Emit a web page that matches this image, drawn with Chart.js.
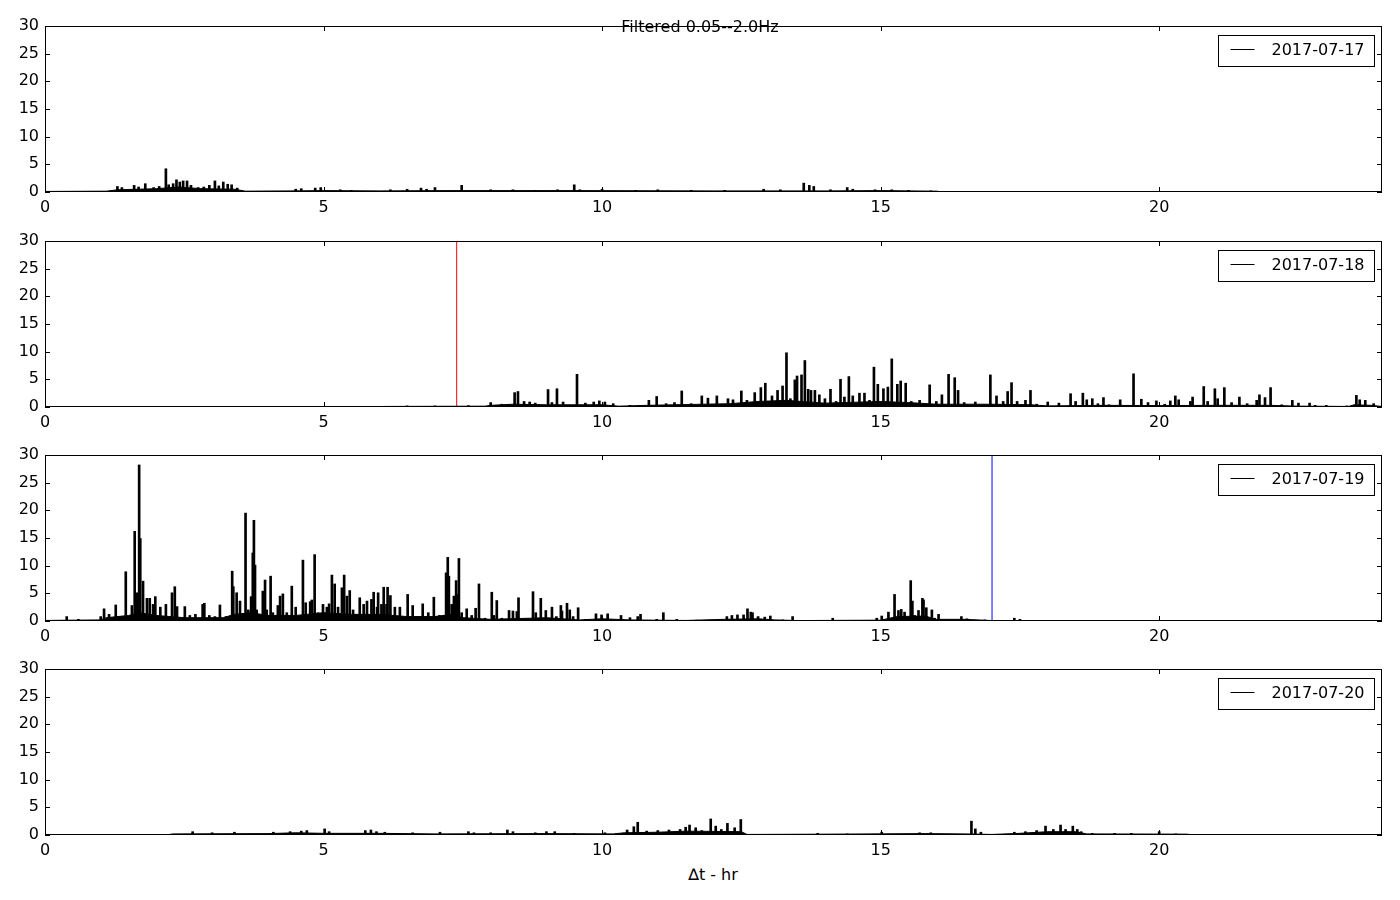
<!DOCTYPE html>
<html>
<head>
<meta charset="utf-8">
<script src="https://cdn.jsdelivr.net/npm/chart.js@4.4.1/dist/chart.umd.min.js"></script>
<style>
  body { margin: 0; background: #fff; width: 1400px; height: 900px; position: relative; overflow: hidden; font-family: "DejaVu Sans", sans-serif; }
  canvas { position: absolute; left: 0; }
  #title { position: absolute; left: 0; width: 1400px; top: 17px; text-align: center; font-size: 16px; line-height: 20px; z-index: 5; }
  #xlabel { position: absolute; left: 26px; width: 1374px; top: 865px; text-align: center; font-size: 16px; line-height: 20px; }
</style>
</head>
<body>
<div id="title">Filtered 0.05--2.0Hz</div>
<canvas id="c0" width="1400" height="200"></canvas>
<canvas id="c1" width="1400" height="200"></canvas>
<canvas id="c2" width="1400" height="200"></canvas>
<canvas id="c3" width="1400" height="200"></canvas>
<div id="xlabel">∆t - hr</div>
<script>
// ---- data (hours, amplitude) ----
const dayLabels = ['2017-07-17', '2017-07-18', '2017-07-19', '2017-07-20']
const xTicks = [0, 5, 10, 15, 20]
const yTicks = [0, 5, 10, 15, 20, 25, 30]

// spikes
const hours17 = [1.3, 1.38, 1.6, 1.68, 1.8, 1.95, 2.05, 2.17, 2.22, 2.3, 2.36, 2.42, 2.48, 2.55, 2.62, 2.75, 2.85, 2.95, 3.05, 3.12, 3.2, 3.28, 3.35, 3.45, 4.5, 4.6, 4.85, 4.95, 5.3, 5.5, 6.2, 6.5, 6.75, 6.85, 7.0, 7.48, 8.0, 8.4, 8.8, 9.2, 9.5, 9.6, 10.0, 10.6, 11.0, 11.6, 12.2, 12.9, 13.2, 13.62, 13.72, 13.8, 14.1, 14.4, 14.5, 14.9, 15.2, 15.5, 15.9]
const peaks17 = [1.0, 0.8, 1.2, 0.9, 1.5, 0.8, 1.0, 4.2, 1.3, 1.5, 2.2, 1.8, 2.0, 2.0, 1.2, 0.8, 0.9, 1.2, 2.0, 1.1, 1.8, 1.4, 1.3, 0.7, 0.5, 0.6, 0.7, 0.8, 0.4, 0.3, 0.4, 0.5, 0.7, 0.5, 0.8, 1.2, 0.4, 0.4, 0.3, 0.4, 1.3, 0.4, 0.5, 0.3, 0.4, 0.3, 0.3, 0.5, 0.4, 1.6, 1.2, 1.0, 0.4, 0.8, 0.5, 0.4, 0.4, 0.3, 0.2]

const hours18 = [6.5, 7.0, 7.6, 8.0, 8.2, 8.43, 8.49, 8.6, 8.7, 8.8, 9.03, 9.1, 9.19, 9.3, 9.55, 9.7, 9.85, 9.95, 10.05, 10.2, 10.5, 10.84, 10.98, 11.15, 11.3, 11.43, 11.6, 11.79, 11.9, 12.06, 12.26, 12.35, 12.5, 12.6, 12.74, 12.85, 12.93, 13.05, 13.15, 13.24, 13.31, 13.38, 13.46, 13.5, 13.58, 13.64, 13.7, 13.75, 13.82, 13.9, 14.0, 14.1, 14.2, 14.28, 14.35, 14.43, 14.5, 14.62, 14.71, 14.8, 14.88, 14.95, 15.05, 15.13, 15.2, 15.3, 15.36, 15.45, 15.55, 15.7, 15.88, 16.0, 16.1, 16.22, 16.33, 16.39, 16.5, 16.7, 16.97, 17.08, 17.2, 17.28, 17.35, 17.45, 17.6, 17.69, 17.8, 18.0, 18.2, 18.41, 18.5, 18.63, 18.7, 18.8, 18.9, 19.0, 19.1, 19.3, 19.54, 19.68, 19.8, 19.95, 20.1, 20.2, 20.29, 20.35, 20.56, 20.6, 20.8, 20.87, 21.0, 21.05, 21.17, 21.3, 21.44, 21.58, 21.75, 21.8, 21.9, 22.0, 22.2, 22.39, 22.5, 22.7, 22.8, 23.0, 23.37, 23.54, 23.6, 23.7, 23.85]
const peaks18 = [0.2, 0.2, 0.25, 0.8, 0.5, 2.6, 2.8, 1.0, 0.9, 0.7, 3.15, 0.8, 3.3, 0.9, 5.9, 0.7, 0.9, 1.1, 0.9, 0.6, 0.3, 1.2, 1.9, 0.6, 0.8, 2.9, 0.6, 2.0, 1.6, 2.0, 1.5, 1.3, 2.9, 1.2, 2.6, 3.5, 4.3, 2.0, 3.0, 3.8, 9.8, 1.5, 4.9, 5.6, 5.8, 8.4, 3.2, 3.0, 3.0, 2.2, 1.5, 3.2, 1.0, 5.0, 1.8, 5.5, 2.0, 2.5, 2.5, 1.2, 7.2, 4.1, 3.3, 3.6, 8.7, 4.1, 4.7, 4.3, 1.0, 1.2, 4.0, 1.0, 2.2, 5.9, 5.3, 3.0, 0.8, 0.9, 5.8, 2.0, 1.0, 2.8, 4.4, 1.0, 1.2, 3.0, 0.5, 0.9, 0.7, 2.4, 1.0, 2.5, 1.3, 1.5, 0.6, 1.7, 0.4, 1.3, 6.0, 1.4, 0.8, 1.1, 0.5, 1.1, 2.0, 1.3, 1.0, 1.8, 3.7, 1.0, 3.3, 1.5, 3.5, 0.8, 1.8, 0.6, 1.2, 2.2, 1.7, 3.5, 0.4, 1.2, 0.7, 0.7, 0.3, 0.3, 0.2, 2.1, 1.3, 1.2, 0.6]

const hours19 = [0.39, 0.6, 1.0, 1.06, 1.15, 1.27, 1.35, 1.45, 1.56, 1.61, 1.65, 1.69, 1.71, 1.76, 1.83, 1.88, 1.94, 1.98, 2.07, 2.17, 2.28, 2.33, 2.37, 2.51, 2.6, 2.7, 2.83, 2.86, 2.95, 3.05, 3.14, 3.25, 3.36, 3.38, 3.44, 3.5, 3.6, 3.65, 3.7, 3.73, 3.75, 3.77, 3.8, 3.91, 3.95, 3.98, 4.05, 4.09, 4.18, 4.22, 4.27, 4.34, 4.43, 4.5, 4.63, 4.68, 4.76, 4.79, 4.84, 4.9, 4.99, 5.06, 5.1, 5.15, 5.2, 5.26, 5.33, 5.37, 5.42, 5.47, 5.53, 5.65, 5.72, 5.78, 5.86, 5.9, 5.96, 5.98, 6.04, 6.08, 6.13, 6.15, 6.2, 6.28, 6.37, 6.51, 6.6, 6.7, 6.78, 6.88, 6.98, 7.08, 7.2, 7.23, 7.25, 7.3, 7.34, 7.38, 7.41, 7.43, 7.48, 7.57, 7.66, 7.73, 7.79, 7.9, 8.02, 8.06, 8.11, 8.2, 8.33, 8.4, 8.47, 8.5, 8.76, 8.81, 8.9, 8.99, 9.1, 9.18, 9.26, 9.28, 9.37, 9.42, 9.48, 9.57, 9.7, 9.89, 9.99, 10.1, 10.34, 10.5, 10.64, 10.69, 10.98, 11.1, 11.34, 11.7, 12.24, 12.33, 12.43, 12.54, 12.61, 12.67, 12.7, 12.8, 12.92, 13.02, 13.24, 13.42, 14.14, 14.93, 15.02, 15.14, 15.25, 15.32, 15.37, 15.43, 15.54, 15.57, 15.61, 15.68, 15.75, 15.77, 15.82, 15.92, 15.97, 16.04, 16.45, 16.55, 16.87, 17.4, 17.5]
const peaks19 = [0.8, 0.3, 0.8, 2.2, 1.2, 2.9, 0.8, 8.9, 2.8, 16.2, 5.1, 28.2, 14.9, 7.2, 4.1, 4.1, 3.0, 4.4, 2.5, 3.0, 5.1, 6.2, 2.6, 2.6, 1.0, 1.2, 3.0, 3.2, 1.0, 0.8, 2.9, 0.8, 9.0, 6.2, 5.1, 3.6, 19.5, 2.0, 4.4, 12.3, 18.2, 10.1, 2.0, 5.4, 7.4, 2.0, 8.1, 1.5, 2.8, 4.5, 4.9, 1.5, 6.3, 2.5, 11.0, 3.3, 3.5, 3.8, 12.0, 1.5, 3.0, 2.5, 3.1, 8.3, 6.7, 2.5, 6.0, 8.3, 4.5, 5.5, 2.0, 4.2, 3.0, 3.6, 3.9, 5.2, 2.5, 5.1, 3.0, 6.1, 3.0, 6.1, 4.6, 2.5, 2.5, 4.8, 2.8, 0.8, 3.1, 1.5, 4.3, 1.0, 8.7, 11.5, 8.1, 3.0, 4.5, 7.3, 4.8, 11.3, 1.5, 2.2, 1.0, 2.3, 6.7, 0.5, 5.2, 1.0, 3.7, 0.5, 1.9, 1.8, 1.7, 4.2, 5.3, 1.5, 4.1, 1.9, 2.5, 0.8, 2.8, 1.8, 3.2, 2.0, 0.8, 2.4, 0.3, 1.3, 1.1, 1.3, 1.0, 0.6, 0.8, 1.2, 0.3, 1.5, 0.3, 0.15, 0.8, 1.0, 1.1, 1.1, 2.2, 1.6, 1.5, 0.8, 0.7, 0.9, 0.2, 0.8, 0.5, 0.5, 0.9, 1.6, 4.8, 1.9, 2.1, 1.6, 7.3, 3.6, 1.0, 1.9, 4.1, 3.8, 2.4, 2.0, 0.5, 1.2, 0.8, 0.4, 0.2, 0.5, 0.3]

const hours20 = [2.65, 3.0, 3.4, 4.1, 4.4, 4.6, 4.7, 5.02, 5.1, 5.75, 5.85, 5.95, 6.1, 6.6, 7.09, 7.6, 7.7, 8.0, 8.3, 8.4, 8.8, 9.0, 9.15, 9.5, 10.05, 10.45, 10.57, 10.64, 10.8, 11.0, 11.2, 11.4, 11.5, 11.57, 11.68, 11.79, 11.95, 12.04, 12.14, 12.25, 12.38, 12.49, 13.87, 14.4, 15.02, 15.7, 15.9, 16.63, 16.7, 16.8, 17.4, 17.6, 17.8, 17.96, 18.1, 18.23, 18.32, 18.45, 18.53, 18.6, 18.8, 19.2, 19.5, 20.0, 20.3]
const peaks20 = [0.6, 0.4, 0.5, 0.5, 0.6, 0.7, 0.8, 1.1, 0.6, 0.8, 0.9, 0.6, 0.5, 0.4, 0.5, 0.6, 0.4, 0.4, 0.9, 0.6, 0.4, 0.6, 0.6, 0.3, 0.4, 0.9, 1.5, 2.3, 0.7, 0.8, 0.9, 1.0, 1.4, 1.8, 1.3, 0.8, 2.9, 1.6, 1.0, 2.1, 1.3, 2.8, 0.3, 0.2, 0.5, 0.4, 0.4, 2.5, 1.1, 0.5, 0.5, 0.6, 0.8, 1.6, 1.0, 1.8, 1.0, 1.6, 1.0, 0.6, 0.3, 0.3, 0.3, 0.6, 0.2]

// low-level background band
const floorHours17 = [0, 1.1, 1.3, 2.0, 2.4, 2.8, 3.4, 3.6, 4.4, 5.0, 6.0, 7.2, 9.5, 12, 14, 15, 16, 16.1, 24]
const floorVals17 = [0.1, 0.15, 0.4, 0.6, 0.9, 0.6, 0.5, 0.15, 0.2, 0.25, 0.2, 0.25, 0.25, 0.2, 0.2, 0.25, 0.15, 0.04, 0.04]
const floorHours18 = [0, 6.0, 6.1, 7.9, 8.0, 8.4, 9.0, 10.0, 10.3, 10.8, 12.3, 12.8, 13.3, 14.0, 15.0, 15.5, 16.0, 17.0, 17.7, 18.0, 19.0, 20, 21, 22, 22.5, 23.4, 23.5, 23.8, 24]
const floorVals18 = [0.02, 0.03, 0.1, 0.15, 0.3, 0.5, 0.4, 0.4, 0.15, 0.3, 0.6, 1.0, 1.2, 0.7, 1.0, 0.8, 0.5, 0.5, 0.4, 0.2, 0.3, 0.25, 0.3, 0.3, 0.15, 0.1, 0.4, 0.3, 0.1]
const floorHours19 = [0, 1.0, 1.1, 1.5, 1.7, 2.0, 2.5, 3.2, 3.4, 3.7, 4.0, 4.5, 5.0, 5.5, 6.0, 6.5, 7.0, 7.3, 7.5, 8.0, 8.7, 9.0, 9.6, 10.0, 10.5, 11.5, 12.2, 12.8, 13.1, 13.5, 15.0, 15.3, 15.8, 16.0, 16.5, 17.0, 20, 24]
const floorVals19 = [0.1, 0.2, 0.6, 1.0, 1.5, 1.0, 0.6, 0.6, 1.2, 1.5, 1.0, 1.0, 1.5, 1.2, 1.2, 0.8, 0.8, 1.2, 0.6, 0.3, 0.5, 0.6, 0.2, 0.4, 0.2, 0.1, 0.3, 0.4, 0.2, 0.08, 0.15, 0.8, 0.9, 0.3, 0.3, 0.08, 0.06, 0.03]
const floorHours20 = [0, 2.2, 2.3, 4.0, 4.5, 5.0, 6.0, 7, 9, 10.2, 10.4, 11.0, 11.5, 12.5, 12.6, 14, 15.8, 16.5, 17, 17.5, 18.0, 18.5, 18.7, 20.5, 20.6, 24]
const floorVals20 = [0.02, 0.05, 0.2, 0.25, 0.4, 0.3, 0.3, 0.2, 0.25, 0.2, 0.4, 0.5, 0.7, 0.6, 0.1, 0.15, 0.25, 0.2, 0.1, 0.3, 0.6, 0.6, 0.2, 0.15, 0.02, 0.02]

// vertical markers
const markerHours = [null, 7.39, 17.0, null]
const markerColors = [null, '#ff0000', '#0000ff', null]

const spikeHours = [hours17, hours18, hours19, hours20]
const spikeVals = [peaks17, peaks18, peaks19, peaks20]
const floorHours = [floorHours17, floorHours18, floorHours19, floorHours20]
const floorVals = [floorVals17, floorVals18, floorVals19, floorVals20]

// ---- layout ----
const panelTops = [26, 241, 455, 669]
const panelHeight = 166
const padTop = 20
const xAxisHeight = 24
const tickLen = 5
const font = { family: 'DejaVu Sans', size: 16 }

const framePlugin = {
    id: 'frame',
    afterDraw(chart) {
        const { ctx, chartArea: a } = chart
        const xs = chart.scales.x, ys = chart.scales.y
        ctx.save()
        ctx.strokeStyle = '#000'
        ctx.lineWidth = 1
        ctx.strokeRect(a.left + 0.5, a.top + 0.5, a.width - 1, a.height - 1)
        ctx.beginPath()
        xTicks.forEach(v => {
            const px = Math.round(xs.getPixelForValue(v)) + 0.5
            ctx.moveTo(px, a.bottom); ctx.lineTo(px, a.bottom - tickLen)
            ctx.moveTo(px, a.top); ctx.lineTo(px, a.top + tickLen)
        })
        yTicks.forEach(v => {
            const py = Math.round(ys.getPixelForValue(v)) + 0.5
            ctx.moveTo(a.left, py); ctx.lineTo(a.left + tickLen, py)
            ctx.moveTo(a.right, py); ctx.lineTo(a.right - tickLen, py)
        })
        ctx.stroke()

        // legend box
        const w = 156, h = 31
        const bx = Math.round(a.right - 8 - w) + 0.5, by = Math.round(a.top + 9) + 0.5
        ctx.fillStyle = '#fff'
        ctx.fillRect(bx, by, w, h)
        ctx.strokeRect(bx, by, w, h)
        ctx.beginPath()
        ctx.moveTo(bx + 12, by + 14); ctx.lineTo(bx + 36, by + 14)
        ctx.stroke()
        ctx.fillStyle = '#000'
        ctx.font = '16px "DejaVu Sans"'
        ctx.textBaseline = 'middle'
        ctx.fillText(chart.options.plugins.frame.label, bx + 53, by + 15)
        ctx.restore()
    }
}

const makeChart = (i) => {
    const canvas = document.getElementById('c' + i)
    canvas.style.top = (panelTops[i] - padTop) + 'px'
    canvas.height = padTop + panelHeight + xAxisHeight

    const datasets = [{
        type: 'line',
        label: dayLabels[i],
        data: floorHours[i].map((h, k) => ({ x: h, y: floorVals[i][k] })),
        borderColor: '#000',
        backgroundColor: '#000',
        borderWidth: 1,
        fill: 'origin',
        pointRadius: 0,
        tension: 0
    }, {
        type: 'bar',
        label: dayLabels[i] + ' spikes',
        data: spikeHours[i].map((h, k) => ({ x: h, y: spikeVals[i][k] })),
        backgroundColor: '#000',
        barThickness: 2,
        grouped: false
    }]
    if (markerHours[i] !== null) {
        datasets.push({
            type: 'line',
            label: 'marker',
            data: [{ x: markerHours[i], y: 0 }, { x: markerHours[i], y: 30 }],
            borderColor: markerColors[i],
            borderWidth: 1,
            pointRadius: 0
        })
    }

    return new Chart(canvas, {
        type: 'bar',
        data: { datasets },
        plugins: [framePlugin],
        options: {
            responsive: false,
            animation: false,
            devicePixelRatio: 1,
            layout: { padding: { top: padTop, right: 18, left: 0, bottom: 0 } },
            plugins: {
                legend: { display: false },
                tooltip: { enabled: false },
                frame: { label: dayLabels[i] }
            },
            scales: {
                x: {
                    type: 'linear', min: 0, max: 24, offset: false,
                    grid: { display: false, drawTicks: false }, border: { display: false },
                    afterBuildTicks: s => { s.ticks = xTicks.map(v => ({ value: v })) },
                    afterFit: s => { s.height = xAxisHeight },
                    ticks: { padding: 6, color: '#000', font, maxRotation: 0, autoSkip: false }
                },
                y: {
                    min: 0, max: 30,
                    grid: { display: false, drawTicks: false }, border: { display: false },
                    afterBuildTicks: s => { s.ticks = yTicks.map(v => ({ value: v })) },
                    afterFit: s => { s.width = 45 },
                    ticks: { padding: 6, color: '#000', font, autoSkip: false }
                }
            }
        }
    })
}

for (let i = 0; i < 4; i++) makeChart(i)
</script>
</body>
</html>
